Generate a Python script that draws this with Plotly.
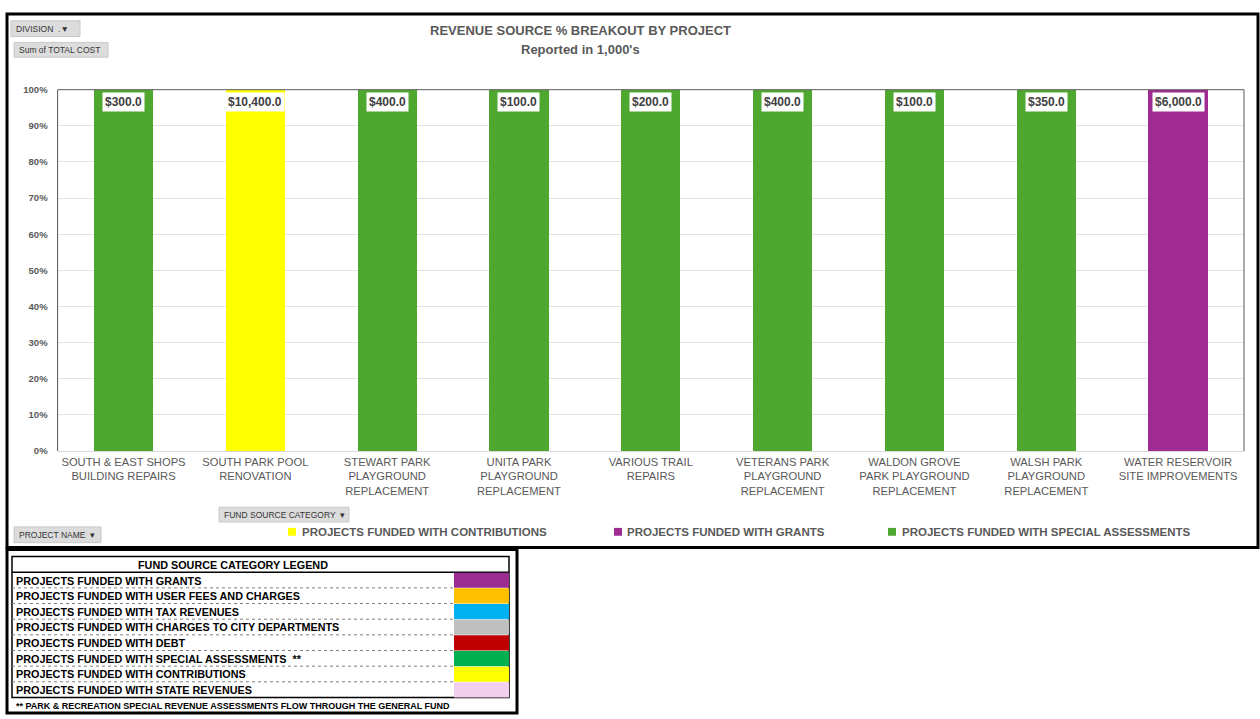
import plotly.graph_objects as go

W, H = 1260, 719

# data
projects = [
    "SOUTH & EAST SHOPS BUILDING REPAIRS",
    "SOUTH PARK POOL RENOVATION",
    "STEWART PARK PLAYGROUND REPLACEMENT",
    "UNITA PARK PLAYGROUND REPLACEMENT",
    "VARIOUS TRAIL REPAIRS",
    "VETERANS PARK PLAYGROUND REPLACEMENT",
    "WALDON GROVE PARK PLAYGROUND REPLACEMENT",
    "WALSH PARK PLAYGROUND REPLACEMENT",
    "WATER RESERVOIR SITE IMPROVEMENTS",
]
tick_labels = [
    "SOUTH & EAST SHOPS<br>BUILDING REPAIRS",
    "SOUTH PARK POOL<br>RENOVATION",
    "STEWART PARK<br>PLAYGROUND<br>REPLACEMENT",
    "UNITA PARK<br>PLAYGROUND<br>REPLACEMENT",
    "VARIOUS TRAIL<br>REPAIRS",
    "VETERANS PARK<br>PLAYGROUND<br>REPLACEMENT",
    "WALDON GROVE<br>PARK PLAYGROUND<br>REPLACEMENT",
    "WALSH PARK<br>PLAYGROUND<br>REPLACEMENT",
    "WATER RESERVOIR<br>SITE IMPROVEMENTS",
]
fund_source = [
    "PROJECTS FUNDED WITH SPECIAL ASSESSMENTS",
    "PROJECTS FUNDED WITH CONTRIBUTIONS",
    "PROJECTS FUNDED WITH SPECIAL ASSESSMENTS",
    "PROJECTS FUNDED WITH SPECIAL ASSESSMENTS",
    "PROJECTS FUNDED WITH SPECIAL ASSESSMENTS",
    "PROJECTS FUNDED WITH SPECIAL ASSESSMENTS",
    "PROJECTS FUNDED WITH SPECIAL ASSESSMENTS",
    "PROJECTS FUNDED WITH SPECIAL ASSESSMENTS",
    "PROJECTS FUNDED WITH GRANTS",
]
total_cost = [300.0, 10400.0, 400.0, 100.0, 200.0, 400.0, 100.0, 350.0, 6000.0]

y_ticks = [0, 10, 20, 30, 40, 50, 60, 70, 80, 90, 100]
y_tick_labels = ["0%", "10%", "20%", "30%", "40%", "50%", "60%", "70%", "80%", "90%", "100%"]

chart_series = [
    "PROJECTS FUNDED WITH CONTRIBUTIONS",
    "PROJECTS FUNDED WITH GRANTS",
    "PROJECTS FUNDED WITH SPECIAL ASSESSMENTS",
]
chart_colors = ["#FFFF00", "#A02B93", "#4EA72E"]

legend_rows = [
    "PROJECTS FUNDED WITH GRANTS",
    "PROJECTS FUNDED WITH USER FEES AND CHARGES",
    "PROJECTS FUNDED WITH TAX REVENUES",
    "PROJECTS FUNDED WITH CHARGES TO CITY DEPARTMENTS",
    "PROJECTS FUNDED WITH DEBT",
    "PROJECTS FUNDED WITH SPECIAL ASSESSMENTS  **",
    "PROJECTS FUNDED WITH CONTRIBUTIONS",
    "PROJECTS FUNDED WITH STATE REVENUES",
]
legend_colors = ["#9B2D91", "#FFC000", "#00B0F0", "#BFBFBF", "#C00000", "#00B050", "#FFFF00", "#F2CEEF"]


def px(x):
    return x / W


def py(y):
    return 1 - y / H


GRAY = "#595959"
FONT = "Arial"


def text_at(x, y, text, size, color, weight="normal", xanchor="left"):
    # paper annotation positioned in screen pixels
    return dict(x=px(x), y=py(y), xref="paper", yref="paper", xanchor=xanchor, yanchor="middle",
                text=text, showarrow=False,
                font=dict(family=FONT, size=size, color=color, weight=weight))


fig = go.Figure()
for name, color in zip(chart_series, chart_colors):
    fig.add_trace(go.Bar(
        x=projects,
        y=[v if s == name else None for v, s in zip(total_cost, fund_source)],
        name=name,
        marker=dict(color=color, line=dict(width=0)),
        showlegend=False,
    ))

annotations = []
shapes = []

# value labels at the top of each bar
for p, v in zip(projects, total_cost):
    annotations.append(dict(
        x=p, y=96.5, xref="x", yref="y", xanchor="center", yanchor="middle",
        text=f"${v:,.1f}", showarrow=False, bgcolor="white", borderpad=2,
        font=dict(family=FONT, size=12, color="#404040", weight="bold"),
    ))

# titles
annotations.append(text_at(580, 25, "REVENUE SOURCE % BREAKOUT BY PROJECT", 13, GRAY, "bold", "center"))
annotations.append(text_at(580, 44, "Reported in 1,000's", 13, GRAY, "bold", "center"))

# pivot field buttons
buttons = [
    ("DIVISION  .▼", 11, 15, 80, 31),
    ("Sum of TOTAL COST", 14, 37, 108, 52),
    ("FUND SOURCE CATEGORY  ▾", 219, 509, 349, 524),
    ("PROJECT NAME  ▾", 14, 529, 101, 545),
]
for text, x0, y0, x1, y1 in buttons:
    shapes.append(dict(type="rect", xref="paper", yref="paper",
                       x0=px(x0), x1=px(x1), y0=py(y1), y1=py(y0),
                       fillcolor="#DCDCDC", line=dict(color="#C8C8C8", width=1)))
    annotations.append(text_at(x0 + 3, (y0 + y1) / 2, text, 8.5, "#333333"))

# chart legend
legend_pos = [(288, 300), (614, 625), (888, 900)]
for (sx, tx), name, color in zip(legend_pos, chart_series, chart_colors):
    shapes.append(dict(type="rect", xref="paper", yref="paper",
                       x0=px(sx), x1=px(sx + 8), y0=py(538), y1=py(530),
                       fillcolor=color, line=dict(width=0)))
    annotations.append(text_at(tx, 534, name, 11.5, GRAY, "bold"))

# plot area border
x0p, x1p, y0p, y1p = 57.6, 1244, 452, 85
for a, b, c, d in [(x0p, y1p, x1p, y1p), (x0p, y1p, x0p, y0p), (x1p, y1p, x1p, y0p)]:
    shapes.append(dict(type="line", xref="paper", yref="paper",
                       x0=px(a), y0=py(b), x1=px(c), y1=py(d),
                       line=dict(color="#595959", width=1)))

# outer frames
shapes.append(dict(type="rect", xref="paper", yref="paper",
                   x0=px(7), x1=px(1258), y0=py(550), y1=py(8),
                   line=dict(color="black", width=3)))
shapes.append(dict(type="rect", xref="paper", yref="paper",
                   x0=px(7), x1=px(517), y0=py(718), y1=py(552),
                   line=dict(color="black", width=3)))

# fund source legend table
tx0, tx1, cx0 = 12, 509, 454
ty0, head_bot, row_h = 559, 575, 15.9
shapes.append(dict(type="rect", xref="paper", yref="paper",
                   x0=px(tx0), x1=px(tx1), y0=py(head_bot + row_h * len(legend_rows)), y1=py(ty0),
                   line=dict(color="black", width=1.5)))
shapes.append(dict(type="line", xref="paper", yref="paper",
                   x0=px(tx0), x1=px(tx1), y0=py(head_bot), y1=py(head_bot),
                   line=dict(color="black", width=1.5)))
annotations.append(text_at((tx0 + cx0) / 2, (ty0 + head_bot) / 2 + 0.5,
                           "FUND SOURCE CATEGORY LEGEND", 10.8, "black", "bold", "center"))
for i, (label, color) in enumerate(zip(legend_rows, legend_colors)):
    top = head_bot + i * row_h
    bot = top + row_h
    shapes.append(dict(type="rect", xref="paper", yref="paper",
                       x0=px(cx0), x1=px(tx1), y0=py(bot), y1=py(top + 0.5),
                       fillcolor=color, line=dict(width=0)))
    if i < len(legend_rows) - 1:
        shapes.append(dict(type="line", xref="paper", yref="paper",
                           x0=px(tx0), x1=px(cx0), y0=py(bot), y1=py(bot),
                           line=dict(color="#7F7F7F", width=1, dash="dot")))
    annotations.append(text_at(tx0 + 2, (top + bot) / 2 + 0.5, label, 10.8, "black", "bold"))
annotations.append(text_at(14, 711, "** PARK & RECREATION SPECIAL REVENUE ASSESSMENTS FLOW THROUGH THE GENERAL FUND",
                           9, "black", "bold"))

fig.update_layout(
    autosize=True,
    margin=dict(l=0, r=0, t=0, b=0),
    paper_bgcolor="white", plot_bgcolor="white",
    barmode="stack", barnorm="percent", bargap=0.55,
    xaxis=dict(domain=[px(x0p), px(x1p)], tickvals=projects, ticktext=tick_labels,
               showline=True, linecolor="#D9D9D9", linewidth=1, showgrid=False,
               ticks="", tickfont=dict(family=FONT, size=11.2, color=GRAY), fixedrange=True),
    yaxis=dict(domain=[py(y0p), py(y1p)], range=[0, 100], tickvals=y_ticks, ticktext=y_tick_labels,
               showgrid=True, gridcolor="#E3E3E3", zeroline=False,
               ticklabelstandoff=9,
               tickfont=dict(family=FONT, size=9.5, color=GRAY, weight="bold"), fixedrange=True),
    annotations=annotations,
    shapes=shapes,
    hovermode="closest",
)

# let the graph fill the browser window exactly
page = "document.body.style.margin='0';document.body.style.overflow='hidden';"
fig.write_html("out.html", config={"displayModeBar": False, "responsive": True},
               default_width="100vw", default_height="100vh", post_script=page)
